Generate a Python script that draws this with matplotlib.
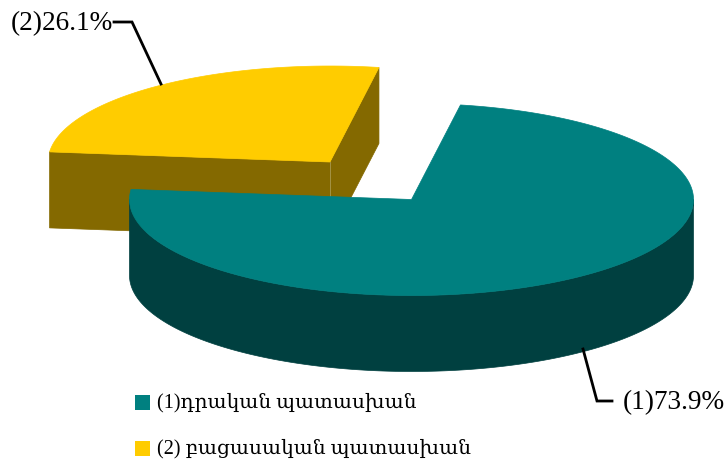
import numpy as np
import matplotlib
matplotlib.use('Agg')
import matplotlib.pyplot as plt
from matplotlib.patches import Polygon, Rectangle

# Datos del grafico
values = [73.9, 26.1]
labels = ['(1)73.9%', '(2)26.1%']
legend_names = ['(1)դրական պատասխան', '(2) բացասական պատասխան']
top_colors = ['#008080', '#FFCC00']
side_colors = ['#004040', '#846900']

FONT = ['Liberation Serif', 'DejaVu Serif', 'DejaVu Sans']
RX, RY, DEPTH = 282, 96, 76
START = 80  # angulo donde empieza la primera porcion, sentido horario


def arc(cx, cy, a1, a2, n=200):
    t = np.radians(np.linspace(a1, a2, n))
    return np.column_stack([cx + RX * np.cos(t), cy - RY * np.sin(t)])


fig = plt.figure(figsize=(7.25, 4.64), dpi=100)
ax = fig.add_axes([0, 0, 1, 1])
ax.set_xlim(0, 725)
ax.set_ylim(464, 0)
ax.axis('off')

spans = [v / sum(values) * 360 for v in values]

# Porcion amarilla (separada hacia atras)
cx, cy = 330, 163
a1 = START + spans[1]
a2 = START
outer = arc(cx, cy, a2, a1)
left, right = outer[-1], outer[0]
d = np.array([0, DEPTH])
c = np.array([cx, cy])
ax.add_patch(Polygon([left, c, c + d, left + d], color=side_colors[1], lw=0.5, zorder=1))
ax.add_patch(Polygon([c, right, right + d, c + d], color=side_colors[1], lw=0.5, zorder=1))
ax.add_patch(Polygon(np.vstack([c, outer]), color=top_colors[1], lw=0.5, zorder=1))
ax.plot([cx, cx], [cy, cy + DEPTH], color='#A89A50', lw=0.6, zorder=1)

# Porcion verde
cx, cy = 411.5, 200.5
rim = arc(cx, cy, 180, 360)
ax.add_patch(Polygon(np.vstack([rim, (rim + d)[::-1]]), color=side_colors[0], lw=0.5, zorder=2))
outer = arc(cx, cy, START, START - spans[0], 400)
ax.add_patch(Polygon(np.vstack([[cx, cy], outer]), color=top_colors[0], lw=0.5, zorder=2))

# Lineas guia y etiquetas
ax.plot([114, 132, 161], [23, 23, 85], color='black', lw=2, solid_joinstyle='miter', zorder=3)
ax.plot([583, 597, 612], [350, 402, 402], color='black', lw=2, solid_joinstyle='miter', zorder=3)
ax.text(11, 24, labels[1], fontsize=19.6, family=FONT, va='center', ha='left')
ax.text(623, 403, labels[0], fontsize=19.6, family=FONT, va='center', ha='left')

# Leyenda
for i, name in enumerate(legend_names):
    y = 403 + i * 46
    ax.add_patch(Rectangle((135, y - 7.5), 15, 15, color=top_colors[i], lw=0))
    ax.text(157, y, name, fontsize=14.5, family=FONT, va='center', ha='left')

fig.savefig('out.png', dpi=100)
